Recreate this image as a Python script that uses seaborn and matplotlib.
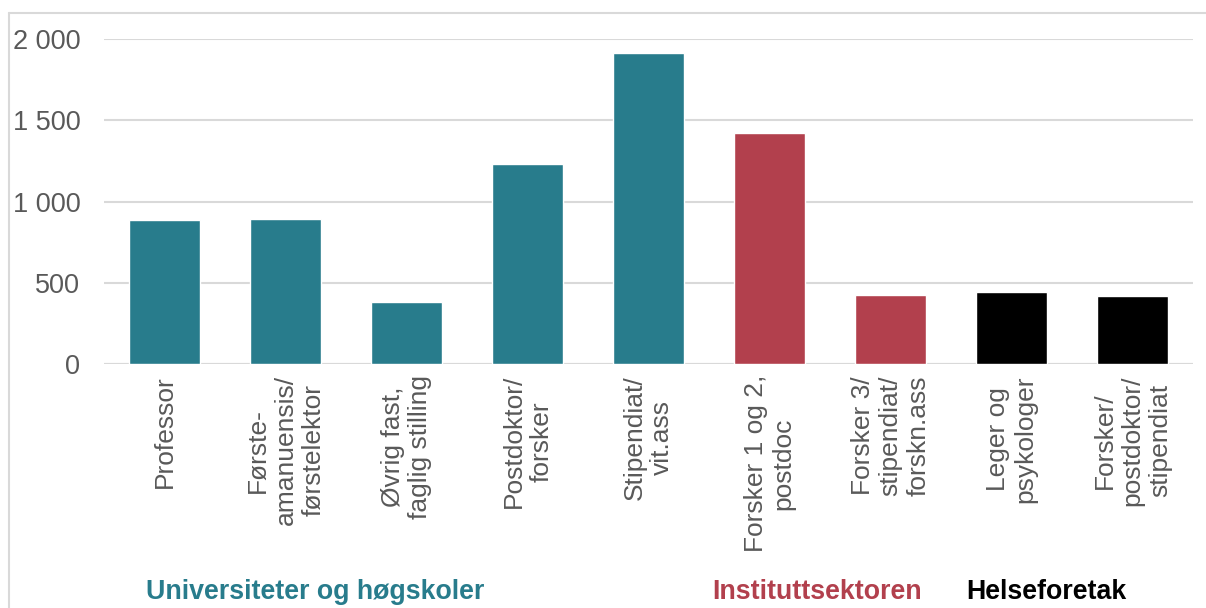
import pandas as pd
import matplotlib
matplotlib.use("Agg")
import matplotlib.pyplot as plt
import matplotlib.transforms as mtransforms
import seaborn as sns

# data
stillinger = [
    "Professor",
    "Første-\namanuensis/\nførstelektor",
    "Øvrig fast,\nfaglig stilling",
    "Postdoktor/\nforsker",
    "Stipendiat/\nvit.ass",
    "Forsker 1 og 2,\npostdoc",
    "Forsker 3/\nstipendiat/\nforskn.ass",
    "Leger og\npsykologer",
    "Forsker/\npostdoktor/\nstipendiat",
]
antall = [887, 894, 384, 1231, 1916, 1422, 425, 443, 419]
sektor = ["UH", "UH", "UH", "UH", "UH", "Institutt", "Institutt", "Helse", "Helse"]

sektor_navn = ["Universiteter og høgskoler", "Instituttsektoren", "Helseforetak"]
farger = {"UH": "#287C8C", "Institutt": "#B2404D", "Helse": "#000000"}

df = pd.DataFrame({"stilling": stillinger, "antall": antall, "sektor": sektor})

sns.set_theme(style="white")
plt.rcParams["font.family"] = ["Liberation Sans", "DejaVu Sans"]

fig = plt.figure(figsize=(12.06, 6.08), dpi=100)
ax = fig.add_axes([104 / 1206, 1 - 364 / 608, (1193 - 104) / 1206, (364 - 39) / 608])

sns.barplot(
    data=df, x="stilling", y="antall", hue="sektor",
    palette=farger, dodge=False, width=0.587, legend=False, ax=ax,
    saturation=1,
)

ax.set_ylim(0, 2000)
ax.set_xlim(-0.5, len(stillinger) - 0.5)
ax.set_yticks([0, 500, 1000, 1500, 2000])
ax.set_yticklabels([f"{v:,}".replace(",", " ") for v in [0, 500, 1000, 1500, 2000]])
ax.yaxis.grid(True, color="#D9D9D9", linewidth=1.5)
ax.set_axisbelow(True)
for s in ax.spines.values():
    s.set_visible(False)
ax.axhline(0, color="#D9D9D9", linewidth=1.5, zorder=0.5)
ax.set_xlabel("")
ax.set_ylabel("")
ax.tick_params(axis="y", length=0, pad=17, labelsize=19.5, labelcolor="#595959")
ax.tick_params(axis="x", length=0, pad=8, labelsize=19, labelcolor="#595959")
plt.setp(ax.get_xticklabels(), rotation=90)

# sektor-overskrifter under aksen
trans = mtransforms.blended_transform_factory(ax.transData, fig.transFigure)
ax.text(-0.15, 0.027, sektor_navn[0], transform=trans, color=farger["UH"],
        fontsize=19.3, fontweight="bold", va="center", ha="left")
ax.text(4.53, 0.027, sektor_navn[1], transform=trans, color=farger["Institutt"],
        fontsize=19.3, fontweight="bold", va="center", ha="left")
ax.text(6.63, 0.027, sektor_navn[2], transform=trans, color=farger["Helse"],
        fontsize=19.3, fontweight="bold", va="center", ha="left")

# ramme rundt figuren
fig.add_artist(plt.Line2D([9 / 1206, 1], [1 - 13 / 608, 1 - 13 / 608],
                          transform=fig.transFigure, color="#D9D9D9", linewidth=1.5))
fig.add_artist(plt.Line2D([9 / 1206, 9 / 1206], [0, 1 - 13 / 608],
                          transform=fig.transFigure, color="#D9D9D9", linewidth=1.5))

fig.savefig("out.png", dpi=100)
